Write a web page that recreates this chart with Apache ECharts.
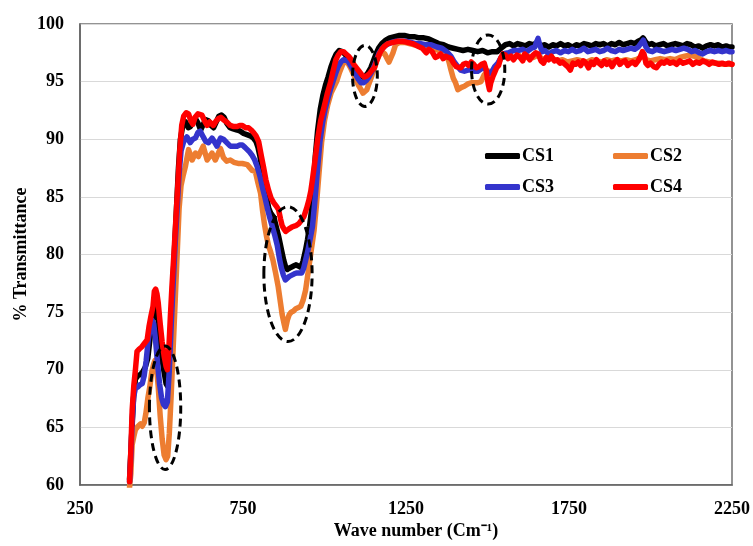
<!DOCTYPE html>
<html><head><meta charset="utf-8">
<script src="https://cdn.jsdelivr.net/npm/echarts@6/dist/echarts.min.js"></script>
<style>html,body{margin:0;padding:0;background:#fff}#c{width:753px;height:546px}</style>
</head><body><div id="c"></div>
<script>
const seriesNames = ['CS1', 'CS2', 'CS3', 'CS4'];
const xTicks = [250, 750, 1250, 1750, 2250];
const yTicks = [60, 65, 70, 75, 80, 85, 90, 95, 100];

const cs1 = [[402,60.5],[408,64.0],[414,67.5],[420,69.2],[428,69.5],[436,69.6],[442,69.8],[450,70.2],[458,71.0],[464,72.5],[470,74.0],[476,75.0],[482,75.4],[488,74.8],[494,73.0],[500,71.2],[508,69.8],[514,68.8],[518,68.6],[523,70.5],[528,73.5],[534,77.0],[540,80.5],[546,84.0],[552,87.5],[558,90.0],[566,91.3],[574,91.5],[582,91.0],[589,91.1],[596,91.6],[604,91.8],[612,91.4],[620,90.8],[628,91.3],[636,91.7],[644,91.6],[652,91.2],[660,91.0],[668,91.5],[676,92.0],[684,92.1],[692,91.9],[700,91.4],[710,91.0],[720,90.9],[732,90.8],[742,90.7],[752,90.5],[762,90.4],[772,90.3],[782,90.1],[790,89.8],[796,89.3],[802,88.5],[808,87.5],[815,86.2],[822,85.0],[829,84.0],[835,83.6],[845,83.2],[852,82.4],[860,81.5],[868,80.4],[875,79.5],[880,79.0],[886,78.7],[892,78.8],[898,78.9],[905,79.0],[912,79.1],[920,79.0],[927,78.9],[934,79.4],[942,80.4],[948,81.3],[954,82.4],[960,83.8],[966,86.0],[972,88.6],[979,90.8],[987,92.6],[995,93.8],[1003,94.7],[1011,95.4],[1020,96.3],[1028,96.9],[1036,97.4],[1045,97.7],[1054,97.6],[1062,97.4],[1070,97.1],[1078,96.7],[1086,96.3],[1094,96.0],[1102,95.7],[1110,95.5],[1118,95.4],[1126,95.5],[1134,95.8],[1142,96.2],[1150,96.8],[1158,97.4],[1166,97.9],[1176,98.3],[1188,98.6],[1200,98.8],[1215,98.9],[1230,99.0],[1245,99.0],[1260,98.9],[1275,98.9],[1290,98.8],[1305,98.8],[1320,98.7],[1335,98.5],[1350,98.3],[1365,98.2],[1380,98.0],[1395,97.9],[1410,97.8],[1425,97.7],[1440,97.8],[1455,97.7],[1470,97.6],[1485,97.7],[1500,97.5],[1515,97.6],[1530,97.6],[1542,97.9],[1555,98.2],[1568,98.3],[1580,98.1],[1592,98.3],[1604,98.2],[1616,98.1],[1628,98.3],[1640,98.2],[1652,98.4],[1664,98.1],[1676,98.2],[1688,98.0],[1700,98.2],[1712,98.1],[1724,98.3],[1736,98.1],[1748,98.2],[1760,98.0],[1772,98.2],[1784,98.1],[1796,98.3],[1808,98.2],[1820,98.1],[1832,98.3],[1844,98.2],[1856,98.3],[1868,98.1],[1880,98.3],[1892,98.2],[1904,98.4],[1916,98.2],[1928,98.3],[1940,98.4],[1952,98.3],[1962,98.5],[1970,98.6],[1977,98.8],[1984,98.5],[1992,98.2],[2004,98.3],[2016,98.1],[2028,98.2],[2040,98.3],[2052,98.1],[2064,98.2],[2076,98.3],[2088,98.2],[2100,98.1],[2112,98.3],[2124,98.2],[2136,98.0],[2148,98.1],[2160,97.9],[2172,98.1],[2184,98.2],[2196,98.1],[2208,98.2],[2220,98.0],[2232,98.1],[2242,98.0],[2250,98.0]];

const cs2 = [[402,59.8],[406,61.0],[410,63.5],[415,64.2],[420,64.8],[428,65.1],[436,65.3],[441,65.1],[447,65.4],[452,66.2],[458,67.5],[464,68.5],[470,69.8],[476,70.5],[480,70.8],[485,70.2],[490,68.5],[496,66.0],[502,64.0],[508,62.6],[514,62.2],[519,62.5],[524,64.5],[530,68.0],[536,72.0],[542,76.0],[548,80.0],[554,84.0],[560,86.0],[566,86.8],[573,87.6],[583,89.1],[594,88.2],[604,88.8],[613,88.5],[628,89.4],[640,88.2],[655,88.8],[665,88.2],[681,89.2],[690,88.4],[700,88.1],[711,88.2],[722,88.0],[735,87.9],[748,87.9],[763,87.8],[778,87.3],[788,87.2],[796,86.2],[804,85.3],[810,83.8],[816,82.6],[822,81.6],[828,80.8],[835,80.2],[842,79.5],[850,78.4],[858,77.2],[865,75.8],[870,74.8],[876,74.0],[880,73.5],[886,74.3],[892,74.8],[898,75.0],[905,75.1],[912,75.3],[920,75.4],[927,75.5],[934,76.0],[942,76.9],[950,78.5],[958,80.1],[968,82.1],[975,84.2],[983,87.0],[991,89.7],[1000,91.6],[1010,93.0],[1020,94.0],[1030,94.6],[1037,95.0],[1046,95.8],[1056,96.5],[1065,96.8],[1072,96.6],[1080,96.2],[1088,95.7],[1096,95.2],[1104,94.7],[1112,94.3],[1118,94.0],[1124,94.0],[1130,94.3],[1136,94.8],[1144,95.4],[1152,96.1],[1160,96.8],[1168,97.3],[1176,97.6],[1185,97.4],[1192,97.0],[1198,96.7],[1204,96.8],[1210,97.5],[1218,98.2],[1230,98.4],[1245,98.4],[1260,98.3],[1275,98.2],[1290,98.2],[1305,98.1],[1320,98.0],[1335,97.9],[1350,97.7],[1365,97.5],[1375,97.3],[1382,96.7],[1388,96.0],[1395,95.3],[1402,94.9],[1409,94.3],[1414,94.2],[1420,94.5],[1429,94.6],[1440,94.8],[1450,94.9],[1460,94.9],[1470,94.9],[1480,95.0],[1490,95.6],[1498,95.8],[1506,95.9],[1514,95.8],[1522,96.1],[1532,96.5],[1542,97.1],[1552,97.3],[1565,97.2],[1580,97.1],[1595,97.3],[1610,97.0],[1625,97.2],[1640,97.1],[1655,97.3],[1670,96.9],[1685,97.1],[1700,97.0],[1715,96.8],[1730,96.9],[1745,96.7],[1760,96.8],[1775,96.9],[1790,96.8],[1805,96.7],[1820,96.9],[1835,96.8],[1850,96.7],[1865,96.9],[1880,96.8],[1895,96.9],[1910,96.8],[1925,96.9],[1940,96.8],[1955,96.9],[1970,97.1],[1978,97.3],[1986,96.9],[2000,96.8],[2015,96.9],[2030,97.0],[2045,96.9],[2060,97.0],[2075,96.9],[2090,97.1],[2105,97.2],[2120,97.3],[2135,97.2],[2150,97.0],[2165,96.8],[2180,96.7],[2195,96.6],[2210,96.6],[2225,96.5],[2240,96.5],[2250,96.5]];

const cs3 = [[402,60.3],[406,62.5],[410,65.5],[415,67.7],[420,68.4],[427,68.5],[434,68.7],[441,68.8],[447,69.5],[453,70.8],[459,72.5],[465,73.6],[471,74.3],[476,74.0],[482,72.5],[488,70.5],[494,68.8],[500,67.6],[506,67.0],[512,66.8],[518,67.2],[524,70.0],[530,74.0],[536,77.5],[542,81.0],[548,84.0],[554,87.0],[560,89.0],[568,89.8],[578,90.2],[588,89.7],[596,90.0],[604,90.1],[612,90.6],[619,90.7],[628,90.2],[636,89.8],[644,89.7],[655,90.1],[662,89.8],[670,89.4],[681,90.1],[690,90.0],[696,89.9],[704,89.6],[711,89.4],[722,89.4],[732,89.4],[740,89.5],[748,89.5],[756,89.3],[763,89.1],[770,88.9],[778,88.6],[786,88.2],[794,87.6],[802,86.8],[809,85.9],[817,85.0],[824,84.1],[832,83.2],[840,82.4],[848,81.6],[855,80.8],[862,79.6],[868,78.8],[874,78.2],[880,77.8],[886,77.9],[892,78.1],[898,78.2],[906,78.3],[914,78.4],[922,78.4],[930,78.4],[936,78.8],[942,79.5],[948,80.2],[955,81.2],[963,82.4],[970,84.5],[978,87.2],[986,89.8],[994,91.4],[1002,92.6],[1010,93.5],[1018,94.3],[1026,95.0],[1034,95.7],[1042,96.3],[1050,96.7],[1058,96.9],[1064,97.0],[1072,96.8],[1080,96.4],[1088,96.0],[1096,95.6],[1104,95.2],[1112,94.9],[1120,94.9],[1128,95.1],[1136,95.4],[1144,95.8],[1152,96.3],[1160,96.9],[1168,97.5],[1178,97.9],[1190,98.2],[1205,98.4],[1220,98.5],[1235,98.5],[1250,98.5],[1265,98.4],[1280,98.3],[1295,98.3],[1310,98.2],[1327,98.2],[1345,98.0],[1360,97.9],[1375,97.6],[1388,97.2],[1398,96.7],[1409,96.3],[1418,96.0],[1429,95.9],[1440,96.0],[1450,96.0],[1460,95.9],[1470,95.9],[1480,96.1],[1491,96.2],[1498,95.9],[1506,95.7],[1514,95.9],[1522,96.3],[1532,96.6],[1542,97.1],[1552,97.45],[1565,97.5],[1580,97.7],[1594,97.7],[1608,97.8],[1620,97.6],[1635,97.9],[1645,98.0],[1650,98.4],[1655,98.75],[1660,98.2],[1668,97.6],[1676,97.7],[1688,97.4],[1700,97.6],[1712,97.7],[1724,97.5],[1736,97.7],[1748,97.6],[1760,97.8],[1772,97.6],[1784,97.7],[1796,97.9],[1808,97.6],[1820,97.7],[1832,97.8],[1844,97.6],[1856,97.7],[1868,97.9],[1880,97.7],[1892,97.6],[1904,97.8],[1916,97.7],[1928,97.8],[1940,97.9],[1952,97.8],[1962,98.0],[1970,98.3],[1978,98.6],[1986,98.0],[1994,97.7],[2006,97.6],[2018,97.8],[2030,97.7],[2042,97.6],[2054,97.7],[2066,97.8],[2078,97.7],[2090,97.8],[2102,97.9],[2114,97.8],[2126,97.6],[2138,97.7],[2150,97.5],[2160,97.4],[2172,97.6],[2184,97.7],[2196,97.6],[2208,97.7],[2220,97.6],[2232,97.7],[2242,97.6],[2250,97.6]];

const cs4 = [[402,60.3],[406,63.0],[410,66.5],[415,68.6],[420,70.0],[425,71.6],[432,71.8],[440,72.0],[448,72.3],[456,72.6],[462,73.8],[468,74.7],[474,75.5],[478,76.8],[482,77.0],[486,76.6],[490,75.8],[496,74.0],[502,72.4],[508,71.2],[514,70.3],[518,70.0],[522,71.5],[527,74.5],[532,77.2],[538,80.0],[543,82.5],[548,85.0],[556,89.0],[562,91.2],[568,92.0],[576,92.3],[583,92.2],[590,91.6],[596,91.3],[603,91.9],[612,92.2],[624,92.1],[632,91.6],[640,91.2],[648,91.5],[659,91.2],[668,91.6],[675,91.8],[682,91.9],[690,91.7],[700,91.5],[711,91.2],[722,91.1],[732,91.1],[740,91.2],[748,91.2],[758,91.0],[767,91.0],[775,90.8],[782,90.6],[790,90.3],[798,89.8],[806,88.6],[813,87.6],[820,86.5],[828,85.6],[836,84.9],[844,84.5],[852,84.2],[859,83.9],[865,83.1],[870,82.5],[876,82.2],[881,82.0],[890,82.2],[901,82.4],[912,82.5],[922,82.7],[930,83.0],[937,83.3],[945,84.0],[952,84.7],[958,85.5],[963,86.5],[970,88.0],[979,90.0],[988,91.6],[997,92.6],[1008,93.9],[1019,95.0],[1027,96.0],[1035,96.9],[1042,97.3],[1050,97.6],[1058,97.6],[1066,97.4],[1074,97.2],[1082,96.9],[1090,96.5],[1098,96.2],[1106,95.9],[1114,95.6],[1122,95.4],[1130,95.5],[1138,95.7],[1146,96.0],[1153,96.2],[1160,96.8],[1168,97.4],[1176,97.8],[1185,98.1],[1195,98.3],[1210,98.4],[1225,98.5],[1240,98.5],[1255,98.4],[1270,98.3],[1285,98.1],[1300,97.9],[1312,97.5],[1320,97.8],[1330,97.6],[1340,97.1],[1348,97.2],[1356,97.4],[1364,97.0],[1372,97.2],[1380,97.1],[1388,97.0],[1396,96.6],[1404,96.3],[1410,96.4],[1418,96.2],[1426,96.5],[1434,96.6],[1442,96.4],[1450,96.7],[1458,96.5],[1466,96.2],[1474,96.3],[1482,96.5],[1490,96.6],[1496,96.0],[1502,94.8],[1506,94.3],[1510,94.9],[1516,95.4],[1522,95.8],[1528,96.2],[1534,96.4],[1540,97.0],[1547,97.4],[1555,97.3],[1563,97.0],[1572,97.2],[1580,96.9],[1590,97.3],[1600,97.1],[1608,96.8],[1614,97.4],[1622,97.2],[1630,96.9],[1640,97.3],[1648,97.5],[1656,97.4],[1664,96.8],[1672,96.6],[1680,97.1],[1688,96.9],[1696,97.2],[1705,96.8],[1714,96.9],[1722,96.6],[1730,96.7],[1738,96.5],[1746,96.3],[1754,96.0],[1762,96.6],[1770,96.5],[1778,96.7],[1786,96.4],[1794,96.8],[1802,96.6],[1810,96.2],[1818,96.7],[1826,96.5],[1834,96.9],[1842,96.6],[1850,96.4],[1858,96.8],[1866,96.5],[1874,96.7],[1882,96.3],[1890,96.7],[1898,96.9],[1906,96.5],[1914,96.7],[1922,96.8],[1930,96.4],[1938,96.6],[1946,96.7],[1954,96.5],[1962,96.8],[1968,97.1],[1975,97.6],[1980,97.4],[1986,96.6],[1992,96.4],[2000,96.6],[2010,96.3],[2018,96.2],[2026,96.5],[2034,96.7],[2042,96.6],[2050,96.8],[2060,96.6],[2070,96.7],[2080,96.5],[2090,96.8],[2100,96.6],[2110,96.7],[2120,96.8],[2130,96.5],[2140,96.7],[2150,96.6],[2160,96.8],[2170,96.7],[2180,96.5],[2190,96.7],[2200,96.6],[2210,96.5],[2220,96.6],[2230,96.5],[2240,96.6],[2250,96.5]];

// highlighted bands: [centre wavenumber, centre %T, half-width (cm-1), half-height (%T)]
const highlightBands = [[511, 66.7, 48, 5.35], [888, 78.3, 74, 5.85], [1124, 95.5, 38, 2.65], [1502, 96.05, 51, 3.0]];

const seriesData = [cs1, cs2, cs3, cs4];
const colors = ['#000000', '#ed7d31', '#3434cc', '#ff0000'];
const FONT = '"Liberation Serif", "Times New Roman", serif';

const chart = echarts.init(document.getElementById('c'), null, {renderer: 'canvas'});
const labelStyle = {fontFamily: FONT, fontWeight: 'bold', fontSize: 18, color: '#000'};
const legendCommon = {
  orient: 'horizontal', left: 480, itemWidth: 35, itemHeight: 6, itemGap: 59,
  icon: 'roundRect', textStyle: {fontFamily: FONT, fontWeight: 'bold', fontSize: 18, color: '#000', padding: [0,0,0,-3]},
  selectedMode: false
};
chart.setOption({
  animation: false,
  backgroundColor: '#fff',
  color: colors,
  grid: {left: 80, right: 21, top: 24, bottom: 61, containLabel: false, outerBoundsMode: 'none',
         show: true, borderColor: '#707070', borderWidth: 1.5, backgroundColor: 'transparent'},
  legend: [
    Object.assign({}, legendCommon, {top: 142, data: [seriesNames[0], seriesNames[1]]}),
    Object.assign({}, legendCommon, {top: 173, data: [seriesNames[2], seriesNames[3]]})
  ],
  xAxis: {
    type: 'value', min: xTicks[0], max: xTicks[xTicks.length - 1], interval: 500,
    name: 'Wave number (Cm\u207B\u00B9)', nameLocation: 'middle', nameGap: 37, nameMoveOverlap: false,
    nameTextStyle: Object.assign({}, labelStyle, {padding: [0, 0, 0, 20]}),
    axisLine: {show: true, lineStyle: {color: '#606060', width: 1.5}},
    axisTick: {show: false},
    splitLine: {show: false},
    axisLabel: Object.assign({}, labelStyle, {margin: 15, formatter: v => String(v)})
  },
  yAxis: {
    type: 'value', min: yTicks[0], max: yTicks[yTicks.length - 1], interval: 5,
    name: '% Transmittance', nameLocation: 'middle', nameGap: 50, nameRotate: 90, nameMoveOverlap: false,
    nameTextStyle: labelStyle,
    axisLine: {show: true, lineStyle: {color: '#606060', width: 1.5}},
    axisTick: {show: false},
    splitLine: {show: true, lineStyle: {color: '#d9d9d9', width: 1}},
    axisLabel: Object.assign({}, labelStyle, {margin: 16, formatter: v => String(v)})
  },
  series: seriesNames.map((n, i) => ({
    name: n, type: 'line', data: seriesData[i], showSymbol: false, symbol: 'none',
    smooth: false, clip: true,
    lineStyle: {width: 5.5, color: colors[i], cap: 'round', join: 'round'},
    itemStyle: {color: colors[i]},
    z: 2 + i
  }))
});

const ellipses = highlightBands.map(([v, t, dv, dt]) => {
  const c = chart.convertToPixel({gridIndex: 0}, [v, t]);
  const e = chart.convertToPixel({gridIndex: 0}, [v + dv, t + dt]);
  return {
    type: 'ellipse', z: 100,
    shape: {cx: c[0], cy: c[1], rx: Math.abs(e[0] - c[0]), ry: Math.abs(c[1] - e[1])},
    style: {fill: 'none', stroke: '#000', lineWidth: 3, lineDash: [8, 5]}
  };
});
chart.setOption({graphic: ellipses});
</script></body></html>
